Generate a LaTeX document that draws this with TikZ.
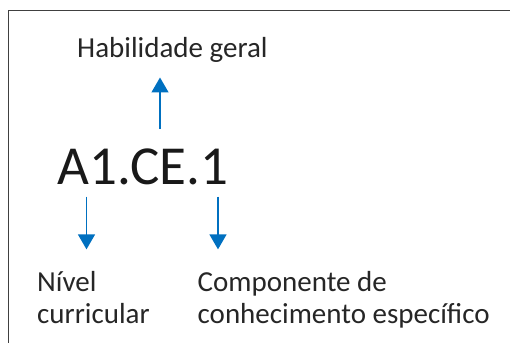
\documentclass[tikz,border=0pt]{standalone}
\usepackage{fontspec}
\setmainfont{Carlito}
\usetikzlibrary{arrows.meta,calc}
\definecolor{azul}{HTML}{0070C0}
\definecolor{texto}{HTML}{262626}

\begin{document}
\begin{tikzpicture}[x=1pt, y=1pt,
    every node/.style={inner sep=0pt, text=texto},
    rotulo/.style={anchor=base west, align=left, font=\fontsize{29}{32}\selectfont},
    seta/.style={azul, line width=1.4pt, -{Triangle[width=17pt,length=15pt]}}]
  \useasboundingbox (0,0) rectangle (510,-343);
  % moldura
  \draw[line width=1.6pt, black!75] (510,-10.5) -- (8.5,-10.5) -- (8.5,-343);
  % textos
  \node[rotulo] (hab) at (77,-57.3) {Habilidade geral};
  \node[anchor=base west, font=\fontsize{55}{60}\selectfont, text=black!90] (cod) at (57.5,-184) {A1.CE.1};
  \node[rotulo] (niv) at (37,-323.7) {Nível\\curricular};
  \node[rotulo] (comp) at (197.5,-323.7) {Componente de\\conhecimento específico};
  % setas
  \coordinate (xa) at (160,0);
  \coordinate (xb) at (86.5,0);
  \coordinate (xc) at (218,0);
  \draw[seta] ($(cod.north -| xa)+(0,19)$) -- ($(hab.south -| xa)+(0,-15)$);
  \draw[seta] ($(cod.south -| xb)+(0,-12)$) -- ($(niv.north -| xb)+(0,22)$);
  \draw[seta] ($(cod.south -| xc)+(0,-12)$) -- ($(niv.north -| xc)+(0,22)$);
\end{tikzpicture}
\end{document}
